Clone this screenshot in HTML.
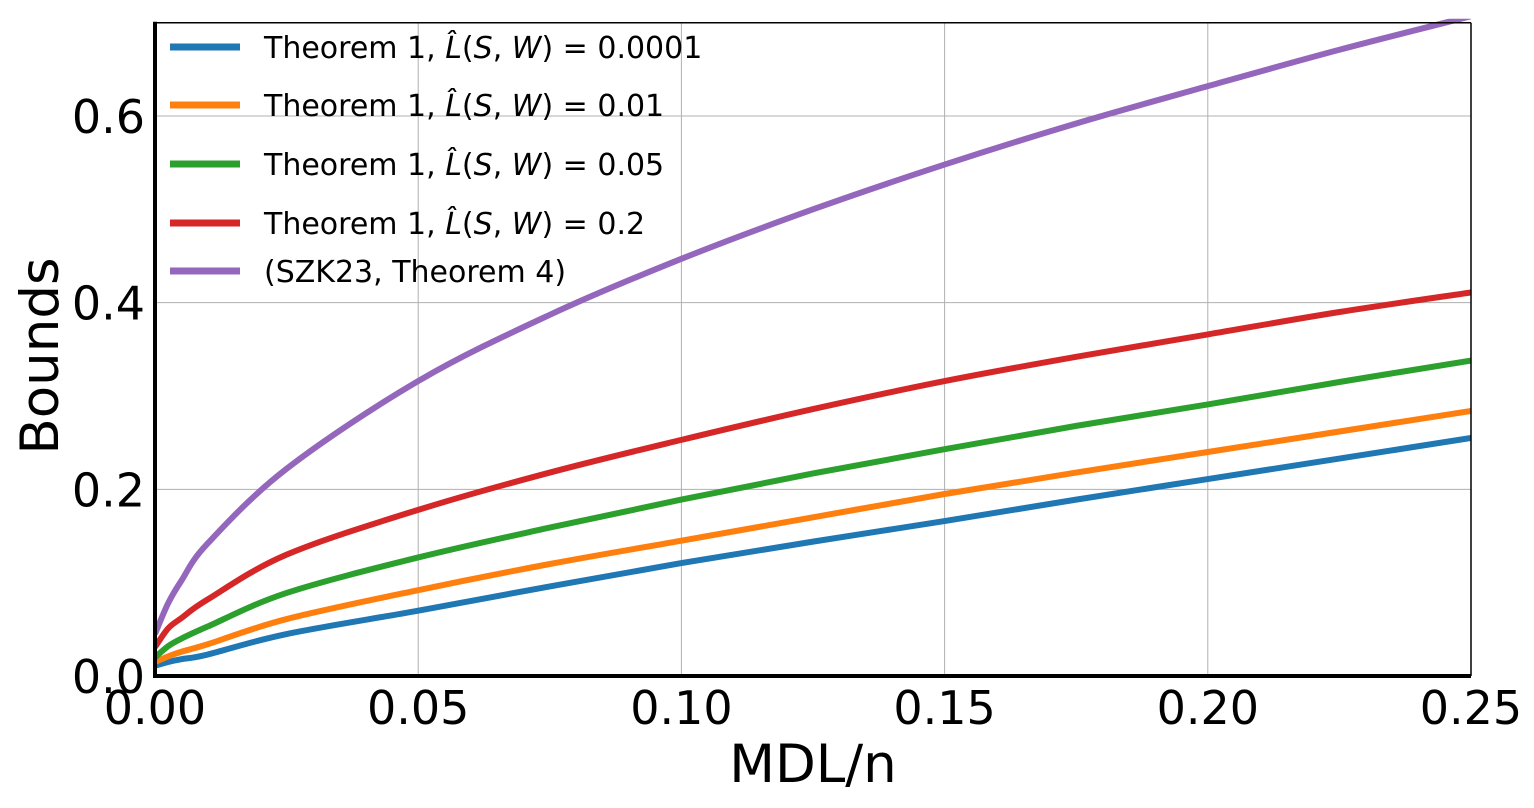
<!DOCTYPE html>
<html><head><meta charset="utf-8"><style>
body{margin:0;background:#fff;}
svg text{font-family:"DejaVu Sans","Liberation Sans",sans-serif;}
</style></head><body>
<svg id="chart" width="1534" height="803" xmlns="http://www.w3.org/2000/svg">
<g id="grid"></g>
<g id="series"></g>
<g id="axes"></g>
<g id="legend"></g>
<text x="813" y="782" font-size="53" text-anchor="middle">MDL/n</text>
<text transform="translate(58,356) rotate(-90)" font-size="53" text-anchor="middle">Bounds</text>
</svg>
<script>
const xs = [0,0.0025,0.005,0.01,0.025,0.05,0.075,0.1,0.125,0.15,0.175,0.2,0.225,0.25];
const blue = [0.011,0.015,0.018,0.023,0.045,0.07,0.096,0.121,0.144,0.166,0.189,0.211,0.233,0.255];
const orange = [0.015,0.021,0.026,0.034,0.061,0.092,0.12,0.145,0.17,0.195,0.218,0.24,0.262,0.284];
const green = [0.02,0.032,0.04,0.053,0.089,0.127,0.159,0.189,0.217,0.243,0.268,0.291,0.315,0.338];
const red = [0.031,0.051,0.062,0.082,0.13,0.178,0.218,0.253,0.286,0.316,0.342,0.366,0.39,0.411];
const purple = [0.045,0.078,0.102,0.142,0.222,0.316,0.387,0.447,0.5,0.548,0.592,0.632,0.671,0.707];
const xTicks = [0,0.05,0.1,0.15,0.2,0.25];
const xTickLabels = ["0.00","0.05","0.10","0.15","0.20","0.25"];
const yTicks = [0,0.2,0.4,0.6];
const yTickLabels = ["0.0","0.2","0.4","0.6"];
const seriesNames = ["Theorem 1, L̂(S,W) = 0.0001","Theorem 1, L̂(S,W) = 0.01","Theorem 1, L̂(S,W) = 0.05","Theorem 1, L̂(S,W) = 0.2","(SZK23, Theorem 4)"];
const legendVals = ["0.0001","0.01","0.05","0.2"];

const X0=155,X1=1471,Y0=676,Y1=22.7;
const sx=v=>X0+(v-0)/(0.25)*(X1-X0);
const sy=v=>Y0-(v/0.7)*(Y0-Y1);
const NS="http://www.w3.org/2000/svg";
function mk(t,a,p){const e=document.createElementNS(NS,t);for(const k in a)e.setAttribute(k,a[k]);p.appendChild(e);return e;}
const grid=document.getElementById('grid'),axes=document.getElementById('axes'),ser=document.getElementById('series'),leg=document.getElementById('legend');
xTicks.forEach((t,i)=>{
  const l=mk('line',{x1:sx(t),x2:sx(t),y1:Y1,y2:Y0,stroke:'#b0b0b0','stroke-width':1},grid);
  
  
  const tx=mk('text',{x:sx(t),y:724,'font-size':46,'text-anchor':'middle'},axes);
  tx.textContent=xTickLabels[i];
  
  
});
yTicks.forEach((t,i)=>{
  const l=mk('line',{x1:X0,x2:X1,y1:sy(t),y2:sy(t),stroke:'#b0b0b0','stroke-width':1},grid);
  
  
  const tx=mk('text',{x:145,y:sy(t)+17,'font-size':46,'text-anchor':'end'},axes);
  tx.textContent=yTickLabels[i];
  
  
});
const colors=['#1f77b4','#ff7f0e','#2ca02c','#d62728','#9467bd'];
const data=[blue,orange,green,red,purple];
const names=['blue-line','orange-line','green-line','red-line','purple-line'];
const cp=mk('clipPath',{id:'cp'},ser);mk('rect',{x:X0,y:Y1-4,width:X1-X0,height:Y0-Y1+4},cp);
function smooth(P){
  let d='M'+P[0][0]+','+P[0][1];
  for(let i=0;i<P.length-1;i++){
    const p0=P[i-1]||P[i],p1=P[i],p2=P[i+1],p3=P[i+2]||P[i+1];
    const c1=[p1[0]+(p2[0]-p0[0])/6,p1[1]+(p2[1]-p0[1])/6];
    const c2=[p2[0]-(p3[0]-p1[0])/6,p2[1]-(p3[1]-p1[1])/6];
    d+=' C'+c1+' '+c2+' '+p2;
  }
  return d;
}
data.forEach((d,i)=>{
  const P=d.map((v,j)=>[sx(xs[j]),sy(v)]);
  const p=mk('path',{d:smooth(P),fill:'none',stroke:colors[i],'stroke-width':6,'clip-path':'url(#cp)','stroke-linejoin':'round'},ser);
  
  
});
let a;
a=mk('line',{x1:X0,x2:X1,y1:Y1,y2:Y1,stroke:'#000','stroke-width':1.5},axes);
a=mk('line',{x1:X1,x2:X1,y1:Y1,y2:Y0,stroke:'#000','stroke-width':1.5},axes);
a=mk('line',{x1:X0,x2:X0,y1:Y1-1,y2:Y0+2,stroke:'#000','stroke-width':4},axes);
a=mk('line',{x1:X0-2,x2:X1,y1:Y0,y2:Y0,stroke:'#000','stroke-width':4},axes);
const ly=[47,105,164,223,271];
seriesNames.forEach((n,i)=>{
  const l=mk('line',{x1:170,x2:240,y1:ly[i],y2:ly[i],stroke:colors[i],'stroke-width':7},leg);
  
  
  const t=mk('text',{x:264,y:ly[i]+11,'font-size':30},leg);
  
  
  if(i<4){
    t.innerHTML='Theorem 1, <tspan font-style="italic">L̂</tspan>(<tspan font-style="italic">S</tspan>, <tspan font-style="italic">W</tspan>) = '+legendVals[i];
  } else t.textContent=n;
});
</script>
</body></html>
